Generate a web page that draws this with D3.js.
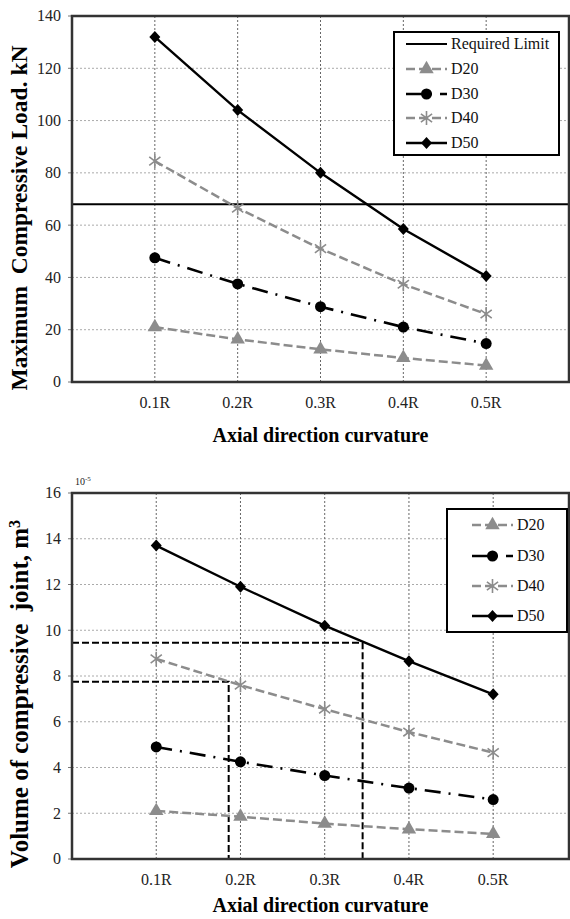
<!DOCTYPE html>
<html>
<head>
<meta charset="utf-8">
<script src="https://cdn.jsdelivr.net/npm/d3@7"></script>
<style>
  body { margin: 0; background: #fff; }
  svg { display: block; font-family: 'Liberation Serif', 'Times New Roman', serif; }
</style>
</head>
<body>
<script>
// categories and values
const categories = ['0.1R', '0.2R', '0.3R', '0.4R', '0.5R']
const curvature = [0.1, 0.2, 0.3, 0.4, 0.5]

const loadD20 = [21, 16.3, 12.5, 9.2, 6.3]
const loadD30 = [47.5, 37.5, 28.8, 21, 14.7]
const loadD40 = [84.5, 66.5, 51, 37.4, 26]
const loadD50 = [132, 104, 80, 58.5, 40.5]
const requiredLimit = 68
const loadTicks = [0, 20, 40, 60, 80, 100, 120, 140]

const volD20 = [2.1, 1.85, 1.55, 1.3, 1.1]
const volD30 = [4.9, 4.25, 3.65, 3.1, 2.6]
const volD40 = [8.75, 7.6, 6.55, 5.55, 4.65]
const volD50 = [13.7, 11.9, 10.2, 8.65, 7.2]
const volTicks = [0, 2, 4, 6, 8, 10, 12, 14, 16]
// dashed read-off guides on the volume chart: [curvature, volume]
const volGuides = [[0.186, 7.75], [0.345, 9.45]]

const GRAY = '#8c8c8c'
const style = {
  D20: { color: GRAY, width: 2.5, dash: '9,4', marker: 'triangle' },
  D30: { color: '#000', width: 2.6, dash: '16,8,2,8', marker: 'circle' },
  D40: { color: GRAY, width: 2.5, dash: '9,4', marker: 'star' },
  D50: { color: '#000', width: 2.4, dash: null, marker: 'diamond' }
}

const svg = d3.select('body').append('svg')
  .attr('width', 570).attr('height', 919)

function marker(g, kind, x, y, color) {
  if (kind === 'triangle') {
    g.append('path').attr('d', d3.symbol(d3.symbolTriangle, 90)())
      .attr('transform', `translate(${x},${y})`).attr('fill', color)
  } else if (kind === 'circle') {
    g.append('circle').attr('cx', x).attr('cy', y).attr('r', 5.5).attr('fill', color)
  } else if (kind === 'diamond') {
    g.append('path').attr('d', 'M0,-6L5.5,0L0,6L-5.5,0Z')
      .attr('transform', `translate(${x},${y})`).attr('fill', color)
  } else if (kind === 'star') {
    const r = 7
    const p = d3.path()
    p.moveTo(0, -r); p.lineTo(0, r)
    p.moveTo(-r * 0.8, -r * 0.6); p.lineTo(r * 0.8, r * 0.6)
    p.moveTo(-r * 0.8, r * 0.6); p.lineTo(r * 0.8, -r * 0.6)
    g.append('path').attr('d', p.toString())
      .attr('transform', `translate(${x},${y})`)
      .attr('stroke', color).attr('stroke-width', 1.6).attr('fill', 'none')
  }
}

function drawPanel(o) {
  const x = d3.scaleLinear().domain([0, o.xMax]).range([o.left, o.right])
  const y = d3.scaleLinear().domain([0, o.yMax]).range([o.bottom, o.top])
  const g = svg.append('g')

  // horizontal grid
  g.selectAll('.hg').data(o.ticks.slice(1, -1)).enter().append('line')
    .attr('x1', o.left).attr('x2', o.right)
    .attr('y1', d => y(d)).attr('y2', d => y(d))
    .attr('stroke', '#aaa').attr('stroke-width', 1).attr('stroke-dasharray', '2,2')
  // vertical grid
  g.selectAll('.vg').data(curvature).enter().append('line')
    .attr('x1', d => x(d)).attr('x2', d => x(d))
    .attr('y1', o.top).attr('y2', o.bottom)
    .attr('stroke', '#666').attr('stroke-width', 1).attr('stroke-dasharray', '2,2')

  // y ticks + labels
  g.selectAll('.yt').data(o.ticks).enter().append('line')
    .attr('x1', o.left - 4).attr('x2', o.left)
    .attr('y1', d => y(d)).attr('y2', d => y(d))
    .attr('stroke', '#777')
  g.selectAll('.yl').data(o.ticks).enter().append('text')
    .attr('x', o.left - 11).attr('y', d => y(d)).attr('dy', '0.34em')
    .attr('text-anchor', 'end').attr('font-size', 16).attr('fill', '#222')
    .text(d => d)

  // x labels
  g.selectAll('.xl').data(categories).enter().append('text')
    .attr('x', (d, i) => x(curvature[i])).attr('y', o.bottom + 21).attr('dy', '0.34em')
    .attr('text-anchor', 'middle').attr('font-size', 16).attr('fill', '#222')
    .text(d => d)

  if (o.extra) o.extra(g, x, y)

  // series
  o.series.forEach(s => {
    const st = style[s.name]
    const line = d3.line().x((d, i) => x(curvature[i])).y(d => y(d))
    g.append('path').datum(s.values).attr('d', line)
      .attr('fill', 'none').attr('stroke', st.color).attr('stroke-width', st.width)
      .attr('stroke-dasharray', st.dash)
    s.values.forEach((v, i) => marker(g, st.marker, x(curvature[i]), y(v), st.color))
  })

  // frame
  g.append('rect').attr('x', o.left).attr('y', o.top)
    .attr('width', o.right - o.left).attr('height', o.bottom - o.top)
    .attr('fill', 'none').attr('stroke', '#333').attr('stroke-width', 2.5)

  // legend
  const L = o.legend
  g.append('rect').attr('x', L.x).attr('y', L.y).attr('width', L.w).attr('height', L.h)
    .attr('fill', '#fff').attr('stroke', '#000').attr('stroke-width', 2)
  L.items.forEach((name, i) => {
    const cy = L.rows[i]
    const x1 = L.sx, x2 = L.sx + 41
    if (name === 'Required Limit') {
      g.append('line').attr('x1', x1).attr('x2', x2).attr('y1', cy).attr('y2', cy)
        .attr('stroke', '#000').attr('stroke-width', 2)
    } else {
      const st = style[name]
      g.append('line').attr('x1', x1).attr('x2', x2).attr('y1', cy).attr('y2', cy)
        .attr('stroke', st.color).attr('stroke-width', st.width)
        .attr('stroke-dasharray', st.dash)
      marker(g, st.marker, (x1 + x2) / 2, cy, st.color)
    }
    g.append('text').attr('x', x2 + 4).attr('y', cy).attr('dy', '0.34em')
      .attr('font-size', 16).attr('fill', '#111').text(name)
  })

  // axis titles
  g.append('text').attr('x', (o.left + o.right) / 2 - 0).attr('y', o.xTitleY)
    .attr('text-anchor', 'middle').attr('font-size', 20).attr('font-weight', 'bold')
    .attr('dy', '0.34em').text('Axial direction curvature')
  const yt = g.append('text')
    .attr('transform', `translate(${o.yTitleX},${o.yTitleY}) rotate(-90)`)
    .attr('text-anchor', 'middle').attr('dy', '0.34em')
    .attr('font-size', o.yTitleSize).attr('font-weight', 'bold').attr('xml:space', 'preserve')
  o.yTitle(yt)
  return { x, y }
}

drawPanel({
  left: 72, right: 569, top: 16, bottom: 382,
  xMax: 0.6, yMax: 140, ticks: loadTicks,
  series: [
    { name: 'D20', values: loadD20 },
    { name: 'D30', values: loadD30 },
    { name: 'D40', values: loadD40 },
    { name: 'D50', values: loadD50 }
  ],
  extra: (g, x, y) => {
    g.append('line').attr('x1', x(0)).attr('x2', x(0.6))
      .attr('y1', y(requiredLimit)).attr('y2', y(requiredLimit))
      .attr('stroke', '#000').attr('stroke-width', 2)
  },
  legend: { x: 394, y: 32, w: 165, h: 123, sx: 406, rows: [44, 69, 94, 118, 143],
    items: ['Required Limit', 'D20', 'D30', 'D40', 'D50'] },
  xTitleY: 435,
  yTitleX: 19, yTitleY: 218, yTitleSize: 23.5,
  yTitle: t => t.text('Maximum  Compressive Load. kN')
})

drawPanel({
  left: 72, right: 569, top: 493, bottom: 859,
  xMax: 0.59, yMax: 16, ticks: volTicks,
  series: [
    { name: 'D20', values: volD20 },
    { name: 'D30', values: volD30 },
    { name: 'D40', values: volD40 },
    { name: 'D50', values: volD50 }
  ],
  extra: (g, x, y) => {
    volGuides.forEach(([c, v]) => {
      const p = d3.path()
      p.moveTo(x(0), y(v)); p.lineTo(x(c), y(v)); p.lineTo(x(c), y(0))
      g.append('path').attr('d', p.toString()).attr('fill', 'none')
        .attr('stroke', '#000').attr('stroke-width', 2).attr('stroke-dasharray', '7,3')
    })
    g.append('text').attr('x', 75).attr('y', 485).attr('font-size', 10).attr('fill', '#222')
      .text('10').append('tspan').attr('dy', -4).attr('font-size', 7).text('-5')
  },
  legend: { x: 447, y: 509, w: 120, h: 123, sx: 472, rows: [525, 556, 586, 616],
    items: ['D20', 'D30', 'D40', 'D50'] },
  xTitleY: 905,
  yTitleX: 19, yTitleY: 694, yTitleSize: 25,
  yTitle: t => {
    t.text('Volume of compressive  joint, m')
    t.append('tspan').attr('dy', '-0.45em').attr('font-size', 16).text('3')
  }
})
</script>
</body>
</html>
